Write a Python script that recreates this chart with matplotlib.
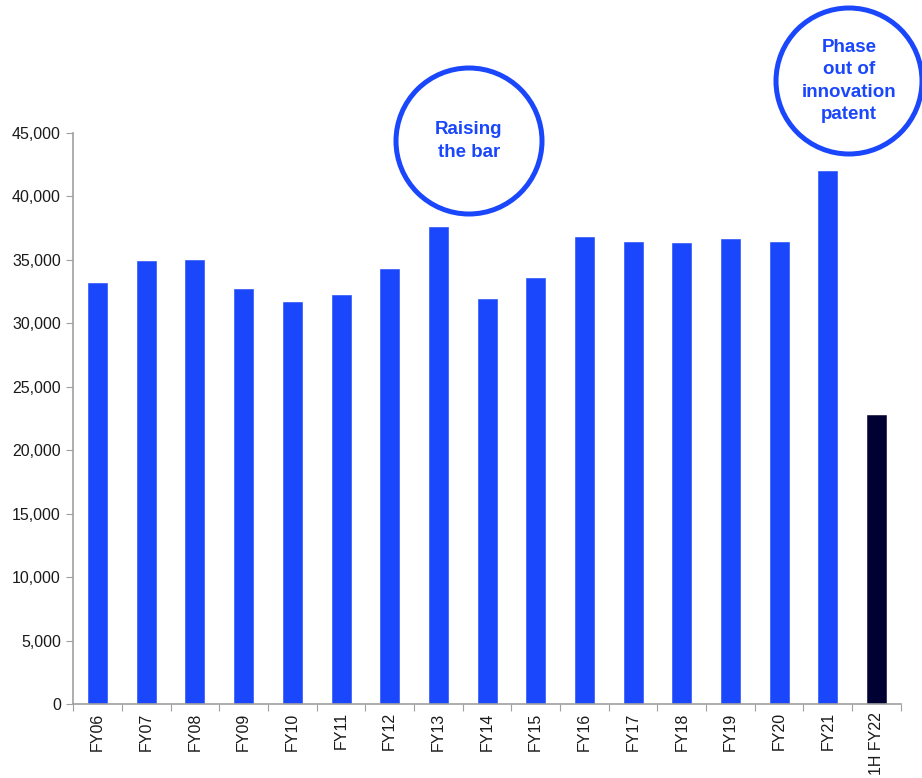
import matplotlib.pyplot as plt
from matplotlib.patches import Ellipse

plt.rcParams['font.family'] = ['Liberation Sans', 'DejaVu Sans']

# applications filed per financial year
years = ['FY06', 'FY07', 'FY08', 'FY09', 'FY10', 'FY11', 'FY12', 'FY13', 'FY14',
         'FY15', 'FY16', 'FY17', 'FY18', 'FY19', 'FY20', 'FY21', '1H FY22']
counts = [33200, 34900, 35000, 32700, 31700, 32200, 34300, 37550, 31900,
          33550, 36750, 36400, 36300, 36650, 36400, 42000, 22750]
y_ticks = [0, 5000, 10000, 15000, 20000, 25000, 30000, 35000, 40000, 45000]

blue = '#1a47fb'
navy = '#000033'
colors = [blue] * (len(years) - 1) + [navy]

fig = plt.figure(figsize=(9.22, 7.78), dpi=100)
ax = fig.add_axes([0.0795, 0.0951, 0.8975, 0.7343])

x = list(range(len(years)))
ax.bar(x, counts, width=0.39, color=colors, edgecolor=colors, linewidth=0.4)

ax.set_xlim(-0.5, len(years) - 0.5)
ax.set_ylim(0, 45000)
ax.set_yticks(y_ticks)
ax.set_yticklabels([f'{v:,}' for v in y_ticks], fontsize=11.5, color='#1a1a1a')

# tick marks sit between the categories, labels under each bar
ax.set_xticks([i - 0.5 for i in range(len(years) + 1)])
ax.set_xticklabels([])
ax.set_xticks(x, minor=True)
ax.set_xticklabels(years, minor=True, rotation=90, fontsize=11.5, color='#1a1a1a')
ax.tick_params(axis='x', which='minor', length=0, pad=6)
ax.tick_params(axis='x', which='major', length=5, color='#a0a0a0', direction='out')
ax.tick_params(axis='y', length=5, color='#a0a0a0', pad=4)

for side in ['top', 'right']:
    ax.spines[side].set_visible(False)
for side in ['left', 'bottom']:
    ax.spines[side].set_color('#a0a0a0')
    ax.spines[side].set_linewidth(1.2)

# callout circles
W, H = 922, 778
callouts = [
    (469, 141, 'Raising\nthe bar'),
    (849, 81, 'Phase\nout of\ninnovation\npatent'),
]
for cx, cy, label in callouts:
    fig.patches.append(Ellipse((cx / W, 1 - cy / H), 146 / W, 146 / H,
                               transform=fig.transFigure, fill=False,
                               edgecolor=blue, linewidth=3.6))
    fig.text(cx / W, 1 - cy / H, label, ha='center', va='center',
             fontsize=13.5, fontweight='bold', color=blue, linespacing=1.4)

fig.savefig('out.png', dpi=100)
